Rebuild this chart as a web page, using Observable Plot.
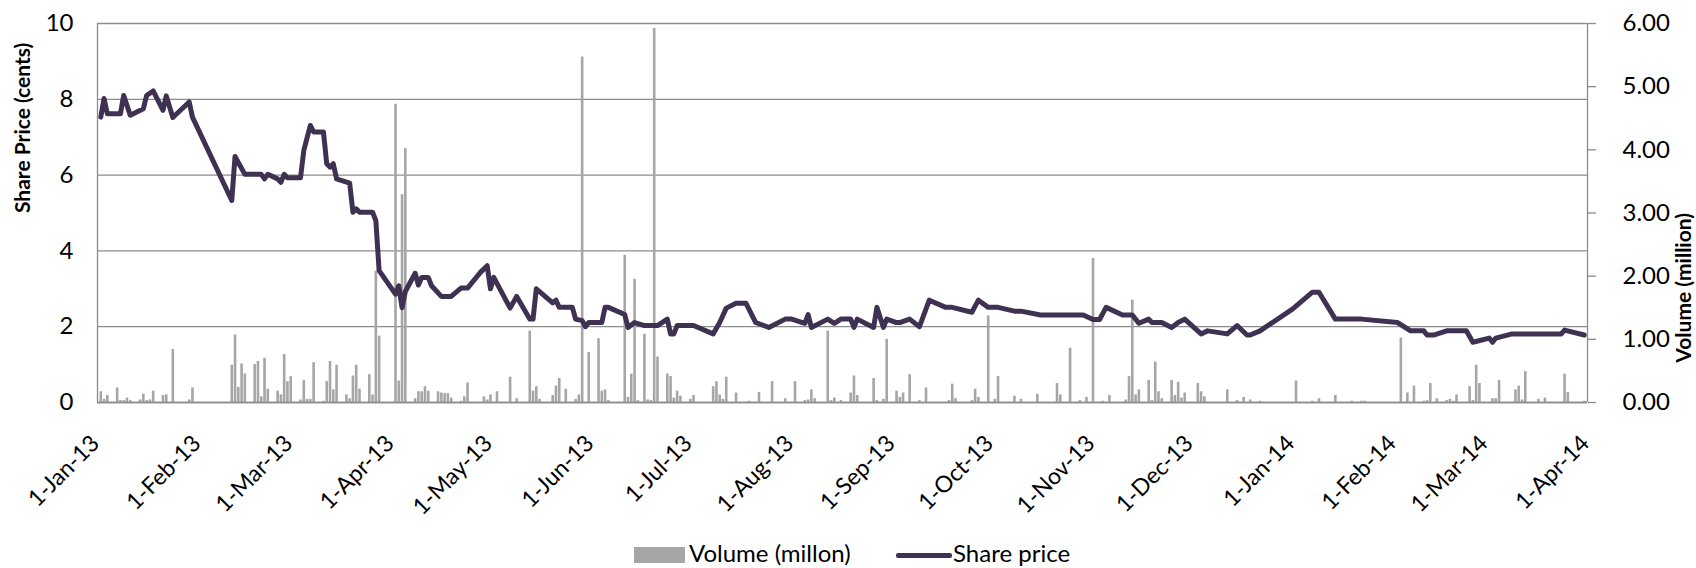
<!DOCTYPE html>
<html><head><meta charset="utf-8">
<script src="https://cdn.jsdelivr.net/npm/d3@7"></script>
<script src="https://cdn.jsdelivr.net/npm/@observablehq/plot@0.6"></script>
<style>
html,body{margin:0;padding:0;background:#fff;}
#wrap{position:relative;width:1696px;height:568px;overflow:hidden;font-family:Lato,sans-serif;}
#chart svg{display:block;}
.lg{position:absolute;top:539px;height:28px;line-height:28px;font-size:24px;color:#000;white-space:nowrap;}
.sw{position:absolute;}
</style></head>
<body><div id="wrap"><div id="chart"></div>
<div class="sw" style="left:634px;top:547px;width:51px;height:16px;background:#a6a6a6"></div>
<div class="lg" style="left:689px">Volume (millon)</div>
<div class="sw" style="left:896px;top:553px;width:56px;height:5px;background:#3f3151;border-radius:2px"></div>
<div class="lg" style="left:953px">Share price</div>
</div>
<script>
const priceDates = ["2013-01-02","2013-01-03","2013-01-04","2013-01-08","2013-01-09","2013-01-11","2013-01-15","2013-01-16","2013-01-18","2013-01-21","2013-01-22","2013-01-24","2013-01-29","2013-01-30","2013-02-11","2013-02-12","2013-02-15","2013-02-20","2013-02-21","2013-02-22","2013-02-25","2013-02-26","2013-02-27","2013-02-28","2013-03-04","2013-03-05","2013-03-07","2013-03-08","2013-03-11","2013-03-12","2013-03-13","2013-03-14","2013-03-15","2013-03-19","2013-03-20","2013-03-21","2013-03-22","2013-03-26","2013-03-27","2013-03-28","2013-04-02","2013-04-03","2013-04-04","2013-04-05","2013-04-08","2013-04-09","2013-04-10","2013-04-12","2013-04-13","2013-04-16","2013-04-19","2013-04-22","2013-04-24","2013-04-28","2013-04-30","2013-05-01","2013-05-02","2013-05-07","2013-05-09","2013-05-13","2013-05-14","2013-05-15","2013-05-20","2013-05-21","2013-05-22","2013-05-26","2013-05-27","2013-05-29","2013-05-30","2013-05-31","2013-06-04","2013-06-05","2013-06-06","2013-06-11","2013-06-12","2013-06-14","2013-06-17","2013-06-21","2013-06-24","2013-06-25","2013-06-26","2013-06-27","2013-07-02","2013-07-08","2013-07-10","2013-07-12","2013-07-15","2013-07-18","2013-07-21","2013-07-25","2013-07-30","2013-08-01","2013-08-05","2013-08-06","2013-08-07","2013-08-12","2013-08-14","2013-08-16","2013-08-19","2013-08-20","2013-08-21","2013-08-26","2013-08-27","2013-08-29","2013-08-30","2013-09-02","2013-09-03","2013-09-06","2013-09-09","2013-09-12","2013-09-17","2013-09-19","2013-09-25","2013-09-27","2013-09-30","2013-10-03","2013-10-08","2013-10-10","2013-10-16","2013-10-29","2013-11-01","2013-11-03","2013-11-05","2013-11-10","2013-11-13","2013-11-15","2013-11-18","2013-11-19","2013-11-22","2013-11-25","2013-11-27","2013-11-29","2013-12-04","2013-12-06","2013-12-12","2013-12-15","2013-12-18","2013-12-19","2013-12-22","2014-01-01","2014-01-07","2014-01-09","2014-01-14","2014-01-22","2014-02-02","2014-02-06","2014-02-10","2014-02-11","2014-02-13","2014-02-17","2014-02-23","2014-02-25","2014-03-02","2014-03-03","2014-03-04","2014-03-09","2014-03-24","2014-03-25","2014-03-31"];
const priceValues = [7.53,8.02,7.62,7.62,8.10,7.58,7.75,8.10,8.22,7.71,8.09,7.52,7.93,7.53,5.33,6.49,6.02,6.02,5.90,6.02,5.90,5.81,6.02,5.93,5.93,6.65,7.31,7.14,7.14,6.30,6.21,6.30,5.90,5.79,5.02,5.11,5.02,5.02,4.80,3.48,2.86,3.08,2.50,2.93,3.41,3.10,3.30,3.30,3.08,2.80,2.80,3.02,3.02,3.44,3.61,3.00,3.30,2.49,2.80,2.20,2.20,3.00,2.63,2.70,2.51,2.51,2.20,2.16,2.00,2.11,2.11,2.51,2.51,2.32,1.98,2.11,2.03,2.03,2.20,1.81,1.81,2.03,2.03,1.81,2.11,2.49,2.62,2.62,2.11,1.98,2.20,2.20,2.09,2.32,1.98,2.20,2.09,2.20,2.20,1.98,2.20,1.98,2.51,1.98,2.20,2.11,2.11,2.20,2.00,2.70,2.51,2.51,2.38,2.70,2.51,2.51,2.41,2.41,2.31,2.31,2.19,2.19,2.51,2.31,2.31,2.09,2.20,2.11,2.11,1.98,2.11,2.20,1.81,1.89,1.81,2.03,1.78,1.78,1.89,2.47,2.91,2.91,2.20,2.20,2.11,1.89,1.89,1.78,1.78,1.89,1.89,1.59,1.70,1.59,1.70,1.81,1.81,1.91,1.78];
const volumeDates = ["2013-01-02","2013-01-03","2013-01-04","2013-01-07","2013-01-08","2013-01-09","2013-01-10","2013-01-11","2013-01-14","2013-01-15","2013-01-16","2013-01-17","2013-01-18","2013-01-21","2013-01-22","2013-01-24","2013-01-29","2013-01-30","2013-02-11","2013-02-12","2013-02-13","2013-02-14","2013-02-15","2013-02-18","2013-02-19","2013-02-20","2013-02-21","2013-02-22","2013-02-25","2013-02-26","2013-02-27","2013-02-28","2013-03-01","2013-03-04","2013-03-05","2013-03-06","2013-03-07","2013-03-08","2013-03-11","2013-03-12","2013-03-13","2013-03-14","2013-03-15","2013-03-18","2013-03-19","2013-03-20","2013-03-21","2013-03-22","2013-03-25","2013-03-26","2013-03-27","2013-03-28","2013-04-02","2013-04-03","2013-04-04","2013-04-05","2013-04-08","2013-04-09","2013-04-10","2013-04-11","2013-04-12","2013-04-15","2013-04-16","2013-04-17","2013-04-18","2013-04-19","2013-04-22","2013-04-23","2013-04-24","2013-04-29","2013-04-30","2013-05-01","2013-05-03","2013-05-07","2013-05-09","2013-05-13","2013-05-14","2013-05-15","2013-05-16","2013-05-20","2013-05-21","2013-05-22","2013-05-24","2013-05-27","2013-05-28","2013-05-29","2013-05-31","2013-06-03","2013-06-04","2013-06-05","2013-06-06","2013-06-11","2013-06-12","2013-06-13","2013-06-14","2013-06-15","2013-06-17","2013-06-18","2013-06-19","2013-06-20","2013-06-21","2013-06-24","2013-06-25","2013-06-26","2013-06-27","2013-06-28","2013-07-01","2013-07-02","2013-07-08","2013-07-09","2013-07-10","2013-07-11","2013-07-12","2013-07-15","2013-07-19","2013-07-22","2013-07-26","2013-07-30","2013-08-02","2013-08-05","2013-08-06","2013-08-07","2013-08-08","2013-08-12","2013-08-13","2013-08-14","2013-08-16","2013-08-19","2013-08-20","2013-08-21","2013-08-26","2013-08-27","2013-08-29","2013-08-30","2013-09-02","2013-09-03","2013-09-04","2013-09-06","2013-09-09","2013-09-11","2013-09-18","2013-09-19","2013-09-20","2013-09-25","2013-09-26","2013-09-27","2013-09-30","2013-10-02","2013-10-03","2013-10-08","2013-10-10","2013-10-15","2013-10-21","2013-10-22","2013-10-25","2013-10-28","2013-10-30","2013-11-01","2013-11-04","2013-11-06","2013-11-11","2013-11-12","2013-11-13","2013-11-14","2013-11-15","2013-11-18","2013-11-19","2013-11-20","2013-11-21","2013-11-22","2013-11-25","2013-11-26","2013-11-27","2013-11-28","2013-11-29","2013-12-03","2013-12-04","2013-12-05","2013-12-12","2013-12-15","2013-12-17","2013-12-19","2013-12-22","2014-01-02","2014-01-07","2014-01-09","2014-01-14","2014-01-19","2014-01-22","2014-01-23","2014-02-03","2014-02-05","2014-02-07","2014-02-10","2014-02-11","2014-02-12","2014-02-14","2014-02-17","2014-02-18","2014-02-19","2014-02-20","2014-02-24","2014-02-25","2014-02-26","2014-02-27","2014-03-03","2014-03-04","2014-03-05","2014-03-10","2014-03-11","2014-03-12","2014-03-13","2014-03-17","2014-03-19","2014-03-25","2014-03-26","2014-03-31"];
const volumeValues = [0.17,0.05,0.11,0.23,0.03,0.03,0.07,0.03,0.04,0.13,0.03,0.04,0.18,0.11,0.12,0.84,0.04,0.23,0.59,1.07,0.24,0.61,0.45,0.60,0.65,0.09,0.70,0.21,0.18,0.12,0.76,0.33,0.41,0.04,0.35,0.05,0.05,0.63,0.02,0.33,0.65,0.20,0.59,0.12,0.06,0.42,0.59,0.21,0.44,0.12,2.08,1.05,4.72,0.34,3.29,4.02,0.06,0.17,0.17,0.25,0.18,0.17,0.15,0.14,0.14,0.07,0.02,0.09,0.31,0.09,0.04,0.12,0.17,0.40,0.06,1.13,0.18,0.25,0.05,0.11,0.26,0.38,0.21,0.05,0.12,5.47,0.79,1.01,0.18,0.20,0.03,2.33,0.08,0.45,1.95,0.03,1.08,0.04,0.03,5.92,0.72,0.45,0.41,0.07,0.18,0.10,0.05,0.11,0.25,0.33,0.12,0.05,0.40,0.15,0.02,0.16,0.33,0.06,0.33,0.03,0.04,0.20,0.06,1.13,0.03,0.07,0.03,0.15,0.42,0.11,0.38,0.03,0.05,1.00,0.18,0.08,0.15,0.44,0.03,0.23,0.03,0.29,0.06,0.03,0.21,0.08,1.37,0.05,0.41,0.10,0.05,0.13,0.30,0.12,0.86,0.03,0.08,2.28,0.02,0.11,0.04,0.41,1.62,0.12,0.20,0.35,0.03,0.64,0.17,0.06,0.35,0.11,0.32,0.07,0.15,0.30,0.17,0.09,0.20,0.03,0.08,0.04,0.02,0.34,0.02,0.06,0.11,0.02,0.02,0.02,1.02,0.15,0.26,0.02,0.03,0.30,0.06,0.03,0.05,0.02,0.12,0.25,0.03,0.59,0.30,0.06,0.06,0.35,0.20,0.26,0.04,0.49,0.05,0.07,0.45,0.16,0.02];
const xTickDates = ["2013-01-01","2013-02-01","2013-03-01","2013-04-01","2013-05-01","2013-06-01","2013-07-01","2013-08-01","2013-09-01","2013-10-01","2013-11-01","2013-12-01","2014-01-01","2014-02-01","2014-03-01","2014-04-01"];
const priceTicks = [0, 2, 4, 6, 8, 10];
const volumeTicks = [0, 1, 2, 3, 4, 5, 6];
const priceMax = 10, volumeMax = 6;

const parse = d3.utcParse("%Y-%m-%d");
const k = priceMax / volumeMax;
const price = priceDates.map((d, i) => ({date: parse(d), value: priceValues[i]}));
const volume = volumeDates.map((d, i) => ({date: parse(d), value: volumeValues[i]}));
const xDates = xTickDates.map(parse);
const volPos = volumeTicks.map(v => v * k);
const lineColor = "#3f3151", gridColor = "#8c8c8c";

const chart = Plot.plot({
  width: 1696, height: 536,
  marginTop: 23, marginBottom: 134, marginLeft: 97, marginRight: 109,
  style: {fontFamily: "Lato, sans-serif", background: "#fff", color: "#000", overflow: "visible"},
  x: {type: "utc", domain: [xDates[0], xDates[xDates.length - 1]]},
  y: {domain: [0, priceMax]},
  marks: [
    Plot.gridY(priceTicks, {stroke: gridColor, strokeOpacity: 1, strokeWidth: 1.3}),
    Plot.ruleX(volume, {x: "date", y1: 0, y2: d => d.value * k, stroke: "#a6a6a6", strokeWidth: 2.6}),
    Plot.line(price, {x: "date", y: "value", stroke: lineColor, strokeWidth: 5, strokeLinejoin: "round", strokeLinecap: "round"}),
    Plot.ruleX([xDates[0], xDates[xDates.length - 1]], {y1: 0, y2: priceMax, stroke: gridColor, strokeWidth: 1.3}),
    Plot.ruleY([0], {stroke: gridColor, strokeWidth: 1.3}),
    Plot.axisY(priceTicks, {anchor: "left", tickSize: 0, tickPadding: 24, fontSize: 24, label: null}),
    Plot.axisY(volPos, {anchor: "right", tickSize: 8, text: null, stroke: gridColor, strokeWidth: 1.3, label: null}),
    Plot.axisY(volPos, {anchor: "right", tickSize: 0, tickPadding: 0, dx: 35, fill: "#000", fontSize: 24, tickFormat: v => (v / k).toFixed(2), label: null}),
    Plot.axisX(xDates, {tickSize: 0, tickRotate: -45, tickPadding: 32, dx: -2, dy: 5, fontSize: 23, tickFormat: d3.utcFormat("%-d-%b-%y"), label: null}),
    Plot.text(["Share Price (cents)"], {text: d => d, frameAnchor: "left", dx: -74, rotate: -90, fontSize: 21, fontWeight: "bold"}),
    Plot.text(["Volume (million)"], {text: d => d, frameAnchor: "right", dx: 97, rotate: -90, fontSize: 21, fontWeight: "bold"})
  ]
});
document.getElementById("chart").appendChild(chart);
</script>
</body></html>
